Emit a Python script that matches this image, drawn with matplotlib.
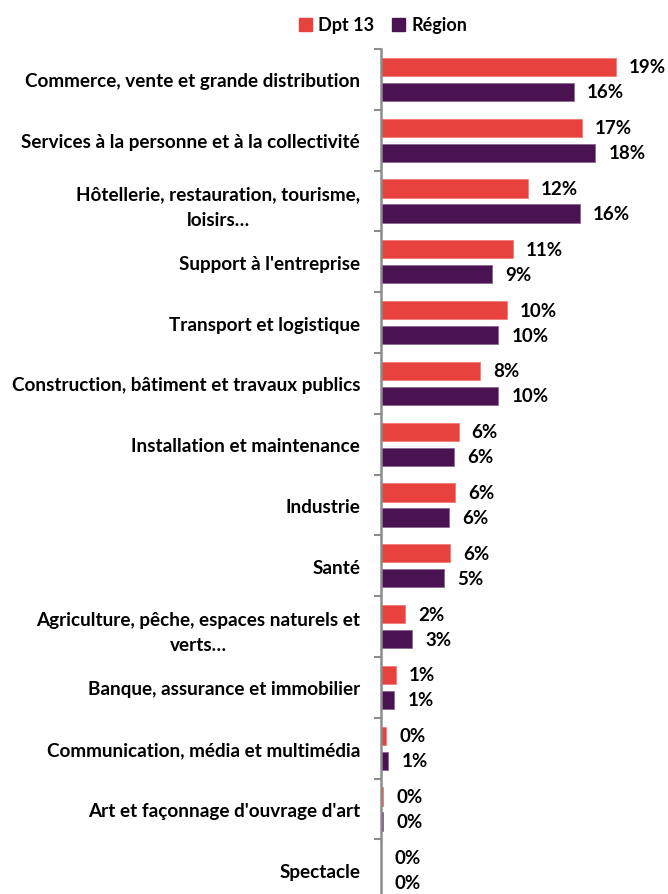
import matplotlib
matplotlib.use("Agg")
import matplotlib.pyplot as plt
from matplotlib.patches import Patch
import numpy as np

plt.rcParams['font.family'] = ['Lato', 'DejaVu Sans']

categories = [
    "Commerce, vente et grande distribution",
    "Services à la personne et à la collectivité",
    "Hôtellerie, restauration, tourisme,\nloisirs…",
    "Support à l'entreprise",
    "Transport et logistique",
    "Construction, bâtiment et travaux publics",
    "Installation et maintenance",
    "Industrie",
    "Santé",
    "Agriculture, pêche, espaces naturels et\nverts…",
    "Banque, assurance et immobilier",
    "Communication, média et multimédia",
    "Art et façonnage d'ouvrage d'art",
    "Spectacle",
]
dpt13 = [19.4, 16.6, 12.1, 10.9, 10.4, 8.2, 6.4, 6.1, 5.7, 2.0, 1.2, 0.4, 0.2, 0.0]
region = [15.9, 17.7, 16.4, 9.2, 9.7, 9.7, 6.0, 5.6, 5.2, 2.6, 1.1, 0.6, 0.2, 0.0]
series_names = ["Dpt 13", "Région"]

red = '#E8423F'
purple = '#4A1250'

fig = plt.figure(figsize=(6.68, 8.95), dpi=100)
ax = fig.add_axes([381 / 668, -6.2 / 895, 287 / 668, 851.2 / 895])

y = np.arange(len(categories))
h = 0.30
off = 0.205
ax.barh(y - off, dpt13, height=h, color=red, edgecolor='#F27A77', linewidth=0.6)
ax.barh(y + off, region, height=h, color=purple, edgecolor='#8C6A92', linewidth=0.6)

# étiquettes de valeurs
for yi, v in zip(y, dpt13):
    ax.annotate(f"{v:.0f}%", (v, yi - off), xytext=(9.5, 0), textcoords='offset points',
                va='center', ha='left', fontsize=13.5, fontweight='bold')
for yi, v in zip(y, region):
    ax.annotate(f"{v:.0f}%", (v, yi + off), xytext=(9.5, 0), textcoords='offset points',
                va='center', ha='left', fontsize=13.5, fontweight='bold')

ax.set_xlim(0, 23.7)
ax.set_ylim(len(categories) - 0.5, -0.5)

ax.set_yticks(y)
ax.set_yticklabels(categories, fontsize=13.6, fontweight='bold', linespacing=1.6)
for t in ax.get_yticklabels():
    t.set_multialignment('center')
ax.set_yticks(np.arange(-0.5, len(categories), 1), minor=True)
ax.tick_params(axis='y', which='major', length=0, pad=15)
ax.tick_params(axis='y', which='minor', length=5, width=1.5, color='#8C8C8C')
ax.set_xticks([])

for s in ['top', 'right', 'bottom']:
    ax.spines[s].set_visible(False)
ax.spines['left'].set_color('#8C8C8C')
ax.spines['left'].set_linewidth(1.8)

handles = [Patch(color=red, label=series_names[0]), Patch(color=purple, label=series_names[1])]
fig.legend(handles=handles, loc='center', bbox_to_anchor=(383 / 668, 1 - 26 / 895),
           ncol=2, frameon=False, handlelength=0.7, handleheight=0.7,
           handletextpad=0.35, columnspacing=1.0, prop={'size': 13, 'weight': 'bold'})

fig.savefig("out.png", dpi=100)
